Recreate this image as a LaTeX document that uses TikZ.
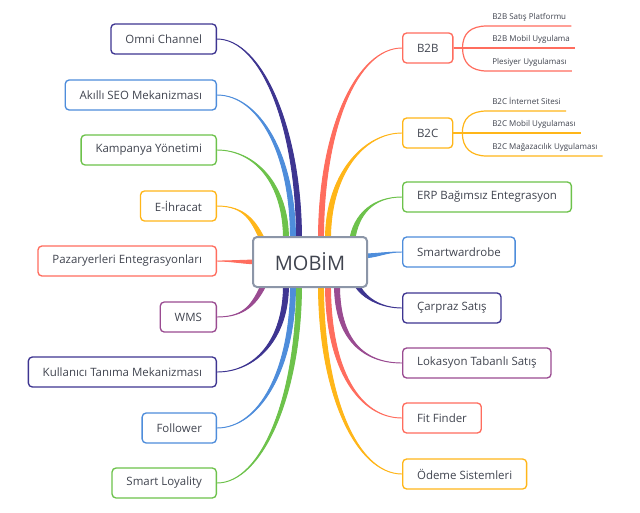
\documentclass[tikz,border=0pt]{standalone}
\usepackage{fontspec}
\setmainfont{Open Sans}
\usetikzlibrary{calc, backgrounds}

\definecolor{mmred}{HTML}{FF6D5E}
\definecolor{mmorange}{HTML}{FFB619}
\definecolor{mmgreen}{HTML}{6DC24B}
\definecolor{mmblue}{HTML}{4E8DDB}
\definecolor{mmindigo}{HTML}{3E3591}
\definecolor{mmplum}{HTML}{9A4B91}
\definecolor{mmgray}{HTML}{8C96A8}
\definecolor{mmtext}{HTML}{40444F}

% tapered branch: colour, from, out control, in control, end, half width
\newcommand{\limb}[6]{%
  \filldraw[#1, line width=0.7pt] (#2) .. controls +(#3) and +(#4) .. ($(#5)+(#6)$)
    -- ($(#5)-(#6)$) .. controls +(#4) and +(#3) .. (#2);}

\tikzset{
  leaf/.style={draw=#1, line width=1pt, rounded corners=3pt, fill=white,
    minimum height=22.5pt, inner xsep=10.8pt, text=mmtext,
    font=\fontsize{8.6}{10}\selectfont},
  lbox/.style={leaf=#1, anchor=east},
  rbox/.style={leaf=#1, anchor=west},
  twig/.style={anchor=south west, inner xsep=3.75pt, inner ysep=4.5pt,
    text depth=0pt, text=mmtext, font=\fontsize{6}{7}\selectfont},
  twigline/.style={draw=#1, line width=0.9pt},
}

\begin{document}
\begin{tikzpicture}[x=0.75pt, y=-0.75pt]
\useasboundingbox (0,0) rectangle (640,512);

% centre
\node[draw=mmgray, line width=1.5pt, rounded corners=3pt, fill=white,
  minimum width=85.5pt, minimum height=37.5pt, text=mmtext,
  font=\fontsize{15}{18}\selectfont] (mobim) at (310,262) {MOBİM};

% left side
\node[lbox=mmindigo] (omni) at (217,39) {Omni Channel};
\node[lbox=mmblue] (seo) at (217,95) {Akıllı SEO Mekanizması};
\node[lbox=mmgreen] (kampanya) at (217,150) {Kampanya Yönetimi};
\node[lbox=mmorange] (ihracat) at (217,206) {E-İhracat};
\node[lbox=mmred] (pazar) at (217,261) {Pazaryerleri Entegrasyonları};
\node[lbox=mmplum] (wms) at (217,317) {WMS};
\node[lbox=mmindigo] (kullanici) at (217,372) {Kullanıcı Tanıma Mekanizması};
\node[lbox=mmblue] (follower) at (217,428) {Follower};
\node[lbox=mmgreen] (loyality) at (217,483) {Smart Loyality};

% right side
\node[rbox=mmred] (b2b) at (402,48) {B2B};
\node[rbox=mmorange] (b2c) at (402,133) {B2C};
\node[rbox=mmgreen] (erp) at (402,197) {ERP Bağımsız Entegrasyon};
\node[rbox=mmblue] (wardrobe) at (402,252) {Smartwardrobe};
\node[rbox=mmindigo] (carpraz) at (402,308) {Çarpraz Satış};
\node[rbox=mmplum] (lokasyon) at (402,363) {Lokasyon Tabanlı Satış};
\node[rbox=mmred] (fit) at (402,418) {Fit Finder};
\node[rbox=mmorange] (odeme) at (402,474) {Ödeme Sistemleri};

% sub topics
\node[twig] (b2b1) at (487,26) {B2B Satış Platformu};
\node[twig] (b2b2) at (487,48) {B2B Mobil Uygulama};
\node[twig] (b2b3) at (487,71) {Plesiyer Uygulaması};
\node[twig] (b2c1) at (487,111) {B2C İnternet Sitesi};
\node[twig] (b2c2) at (487,133) {B2C Mobil Uygulaması};
\node[twig] (b2c3) at (487,156) {B2C Mağazacılık Uygulaması};

\coordinate (b2bfork) at ($(b2b.east)+(9,0)$);
\coordinate (b2cfork) at ($(b2c.east)+(9,0)$);
\draw[twigline=mmred] (b2b.east) -- (b2bfork) .. controls +(0,-15) and +(-16,0) .. (b2b1.south west) -- (b2b1.south east);
\draw[twigline=mmred] (b2b.east) -- (b2b2.south west) -- (b2b2.south east);
\draw[twigline=mmred] (b2bfork) .. controls +(0,15) and +(-16,0) .. (b2b3.south west) -- (b2b3.south east);
\draw[twigline=mmorange] (b2c.east) -- (b2cfork) .. controls +(0,-15) and +(-16,0) .. (b2c1.south west) -- (b2c1.south east);
\draw[twigline=mmorange] (b2c.east) -- (b2c2.south west) -- (b2c2.south east);
\draw[twigline=mmorange] (b2cfork) .. controls +(0,15) and +(-16,0) .. (b2c3.south west) -- (b2c3.south east);

% ends of the branches under the centre
\coordinate (eOmni) at ($(mobim.north)+(-11,3)$);
\coordinate (eSeo) at ($(mobim.north)+(-17,3)$);
\coordinate (eKamp) at ($(mobim.north)+(-24,3)$);
\coordinate (eIhr) at ($(mobim.north)+(-46,7)$);
\coordinate (ePaz) at ($(mobim.west)+(8,0)$);
\coordinate (eWms) at ($(mobim.south)+(-45,-6)$);
\coordinate (eKul) at ($(mobim.south)+(-24,-3)$);
\coordinate (eFol) at ($(mobim.south)+(-17,-3)$);
\coordinate (eLoy) at ($(mobim.south)+(-11,-3)$);
\coordinate (eB2b) at ($(mobim.north)+(11,3)$);
\coordinate (eB2c) at ($(mobim.north)+(18,3)$);
\coordinate (eErp) at ($(mobim.north)+(42,5)$);
\coordinate (eWar) at ($(mobim.east)+(-8,-6)$);
\coordinate (eCar) at ($(mobim.south)+(46,-5)$);
\coordinate (eLok) at ($(mobim.south)+(27,-3)$);
\coordinate (eFit) at ($(mobim.south)+(18,-3)$);
\coordinate (eOde) at ($(mobim.south)+(11,-3)$);

\begin{pgfonlayer}{background}
\fill[white] (0,0) rectangle (640,512);
\limb{mmindigo}{omni.east}{45,0}{0,-110}{eOmni}{2.5,0}
\limb{mmblue}{seo.east}{42,0}{0,-85}{eSeo}{2.5,0}
\limb{mmgreen}{kampanya.east}{38,0}{0,-55}{eKamp}{2.5,0}
\limb{mmorange}{ihracat.east}{28,0}{-10,-22}{eIhr}{2.5,0}
\limb{mmred}{pazar.east}{15,0}{-15,0}{ePaz}{0,2}
\limb{mmplum}{wms.east}{28,0}{-10,22}{eWms}{2.5,0}
\limb{mmindigo}{kullanici.east}{38,0}{0,55}{eKul}{2.5,0}
\limb{mmblue}{follower.east}{42,0}{0,85}{eFol}{2.5,0}
\limb{mmgreen}{loyality.east}{45,0}{0,110}{eLoy}{2.5,0}
\limb{mmred}{b2b.west}{-45,0}{0,-110}{eB2b}{2.5,0}
\limb{mmorange}{b2c.west}{-38,0}{0,-65}{eB2c}{2.5,0}
\limb{mmgreen}{erp.west}{-28,0}{4,-28}{eErp}{2.5,0}
\limb{mmblue}{wardrobe.west}{-18,0}{18,0}{eWar}{0,2}
\limb{mmindigo}{carpraz.west}{-22,0}{6,14}{eCar}{2.5,0}
\limb{mmplum}{lokasyon.west}{-38,0}{0,55}{eLok}{2.5,0}
\limb{mmred}{fit.west}{-42,0}{0,85}{eFit}{2.5,0}
\limb{mmorange}{odeme.west}{-45,0}{0,110}{eOde}{2.5,0}
\end{pgfonlayer}
\end{tikzpicture}
\end{document}
